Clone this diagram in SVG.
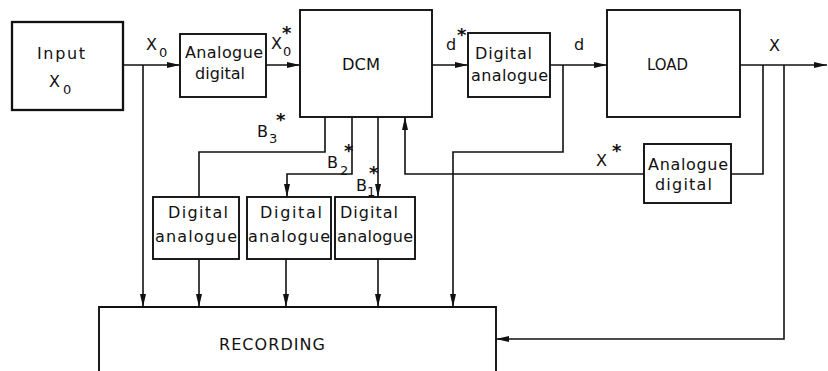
<svg xmlns="http://www.w3.org/2000/svg" width="828" height="371" viewBox="0 0 828 371">
<style>
.box{fill:none;stroke:#111;stroke-width:1.9}
.ln{fill:none;stroke:#111;stroke-width:1.6}
.arr{marker-end:url(#ah)}
text{font-family:"DejaVu Sans","Liberation Sans",sans-serif;font-size:16px;fill:#111}
.sub{font-size:13px}
.star{font-size:18px;font-weight:bold}
</style>
<defs>
<marker id="ah" markerUnits="userSpaceOnUse" markerWidth="13" markerHeight="8" refX="13" refY="4" orient="auto">
<path d="M0,1 L13,4 L0,7 z" fill="#111"/>
</marker>
</defs>
<rect width="828" height="371" fill="#fff"/>

<g id="connectors">
<path class="ln arr" d="M123,65 H180"/>
<path class="ln arr" d="M143,65 V307"/>
<path class="ln arr" d="M266,65 H300"/>
<path class="ln arr" d="M432,65 H468"/>
<path class="ln arr" d="M550,65 H607"/>
<path class="ln arr" d="M563,65 V152 H453 V307"/>
<path class="ln arr" d="M740,65 H827"/>
<path class="ln" d="M763,65 V174 H731"/>
<path class="ln arr" d="M644,174 H405 V117"/>
<path class="ln arr" d="M784,65 V339 H496"/>
<path class="ln" d="M325,117 V152 H199 V197"/>
<path class="ln arr" d="M352,117 V174 H287 V197"/>
<path class="ln arr" d="M378,117 V197"/>
<path class="ln arr" d="M199,259 V307"/>
<path class="ln arr" d="M286,259 V307"/>
<path class="ln arr" d="M378,259 V307"/>
</g>

<g id="labels">
<text x="146" y="50">X<tspan class="sub" x="159" y="57">0</tspan></text>
<text x="271" y="49">X<tspan class="sub" x="283" y="56">0</tspan></text>
<text class="star" x="282" y="39">*</text>
<text x="446" y="50">d</text>
<text class="star" x="457" y="41">*</text>
<text x="574" y="50">d</text>
<text x="769" y="51">X</text>
<text x="257" y="137">B<tspan class="sub" x="269" y="143">3</tspan></text>
<text class="star" x="276" y="126">*</text>
<text x="327" y="168">B<tspan class="sub" x="340" y="175">2</tspan></text>
<text class="star" x="344" y="157">*</text>
<text x="356" y="191">B<tspan class="sub" x="367" y="196">1</tspan></text>
<text class="star" x="369" y="179">*</text>
<text x="596" y="166">X</text>
<text class="star" x="612" y="157">*</text>
</g>

<g id="input">
<rect class="box" x="12" y="22" width="111" height="88" style="stroke-width:2.3"/>
<text x="37" y="59" textLength="48" lengthAdjust="spacing">Input</text>
<text x="49" y="87">X<tspan class="sub" x="63" y="94">0</tspan></text>
</g>

<g id="ad1">
<rect class="box" x="180" y="34" width="86" height="63"/>
<text x="185" y="58" textLength="78" lengthAdjust="spacing">Analogue</text>
<text x="195" y="79" textLength="50" lengthAdjust="spacing">digital</text>
</g>

<g id="dcm">
<rect class="box" x="300" y="10" width="132" height="107"/>
<text x="342" y="70" textLength="38" lengthAdjust="spacingAndGlyphs">DCM</text>
</g>

<g id="da0">
<rect class="box" x="468" y="33" width="82" height="64"/>
<text x="475" y="59" textLength="57" lengthAdjust="spacing">Digital</text>
<text x="471" y="81" textLength="77" lengthAdjust="spacing">analogue</text>
</g>

<g id="load">
<rect class="box" x="607" y="10" width="133" height="107"/>
<text x="647" y="70" textLength="41" lengthAdjust="spacingAndGlyphs">LOAD</text>
</g>

<g id="ad2">
<rect class="box" x="644" y="144" width="87" height="59"/>
<text x="648" y="170" textLength="80" lengthAdjust="spacing">Analogue</text>
<text x="655" y="190" textLength="57" lengthAdjust="spacing">digital</text>
</g>

<g id="da1">
<rect class="box" x="153" y="197" width="86" height="62"/>
<text x="168" y="218" textLength="60" lengthAdjust="spacing">Digital</text>
<text x="155" y="242" textLength="82" lengthAdjust="spacing">analogue</text>
</g>

<g id="da2">
<rect class="box" x="247" y="197" width="84" height="62"/>
<text x="260" y="218" textLength="62" lengthAdjust="spacing">Digital</text>
<text x="248" y="242" textLength="82" lengthAdjust="spacing">analogue</text>
</g>

<g id="da3">
<rect class="box" x="335" y="197" width="80" height="62"/>
<text x="340" y="218" textLength="58" lengthAdjust="spacing">Digital</text>
<text x="337" y="242" textLength="76" lengthAdjust="spacing">analogue</text>
</g>

<g id="recording">
<path class="box" d="M99,375 V307 H496 V375"/>
<text x="219" y="350" textLength="106" lengthAdjust="spacing">RECORDING</text>
</g>
</svg>
